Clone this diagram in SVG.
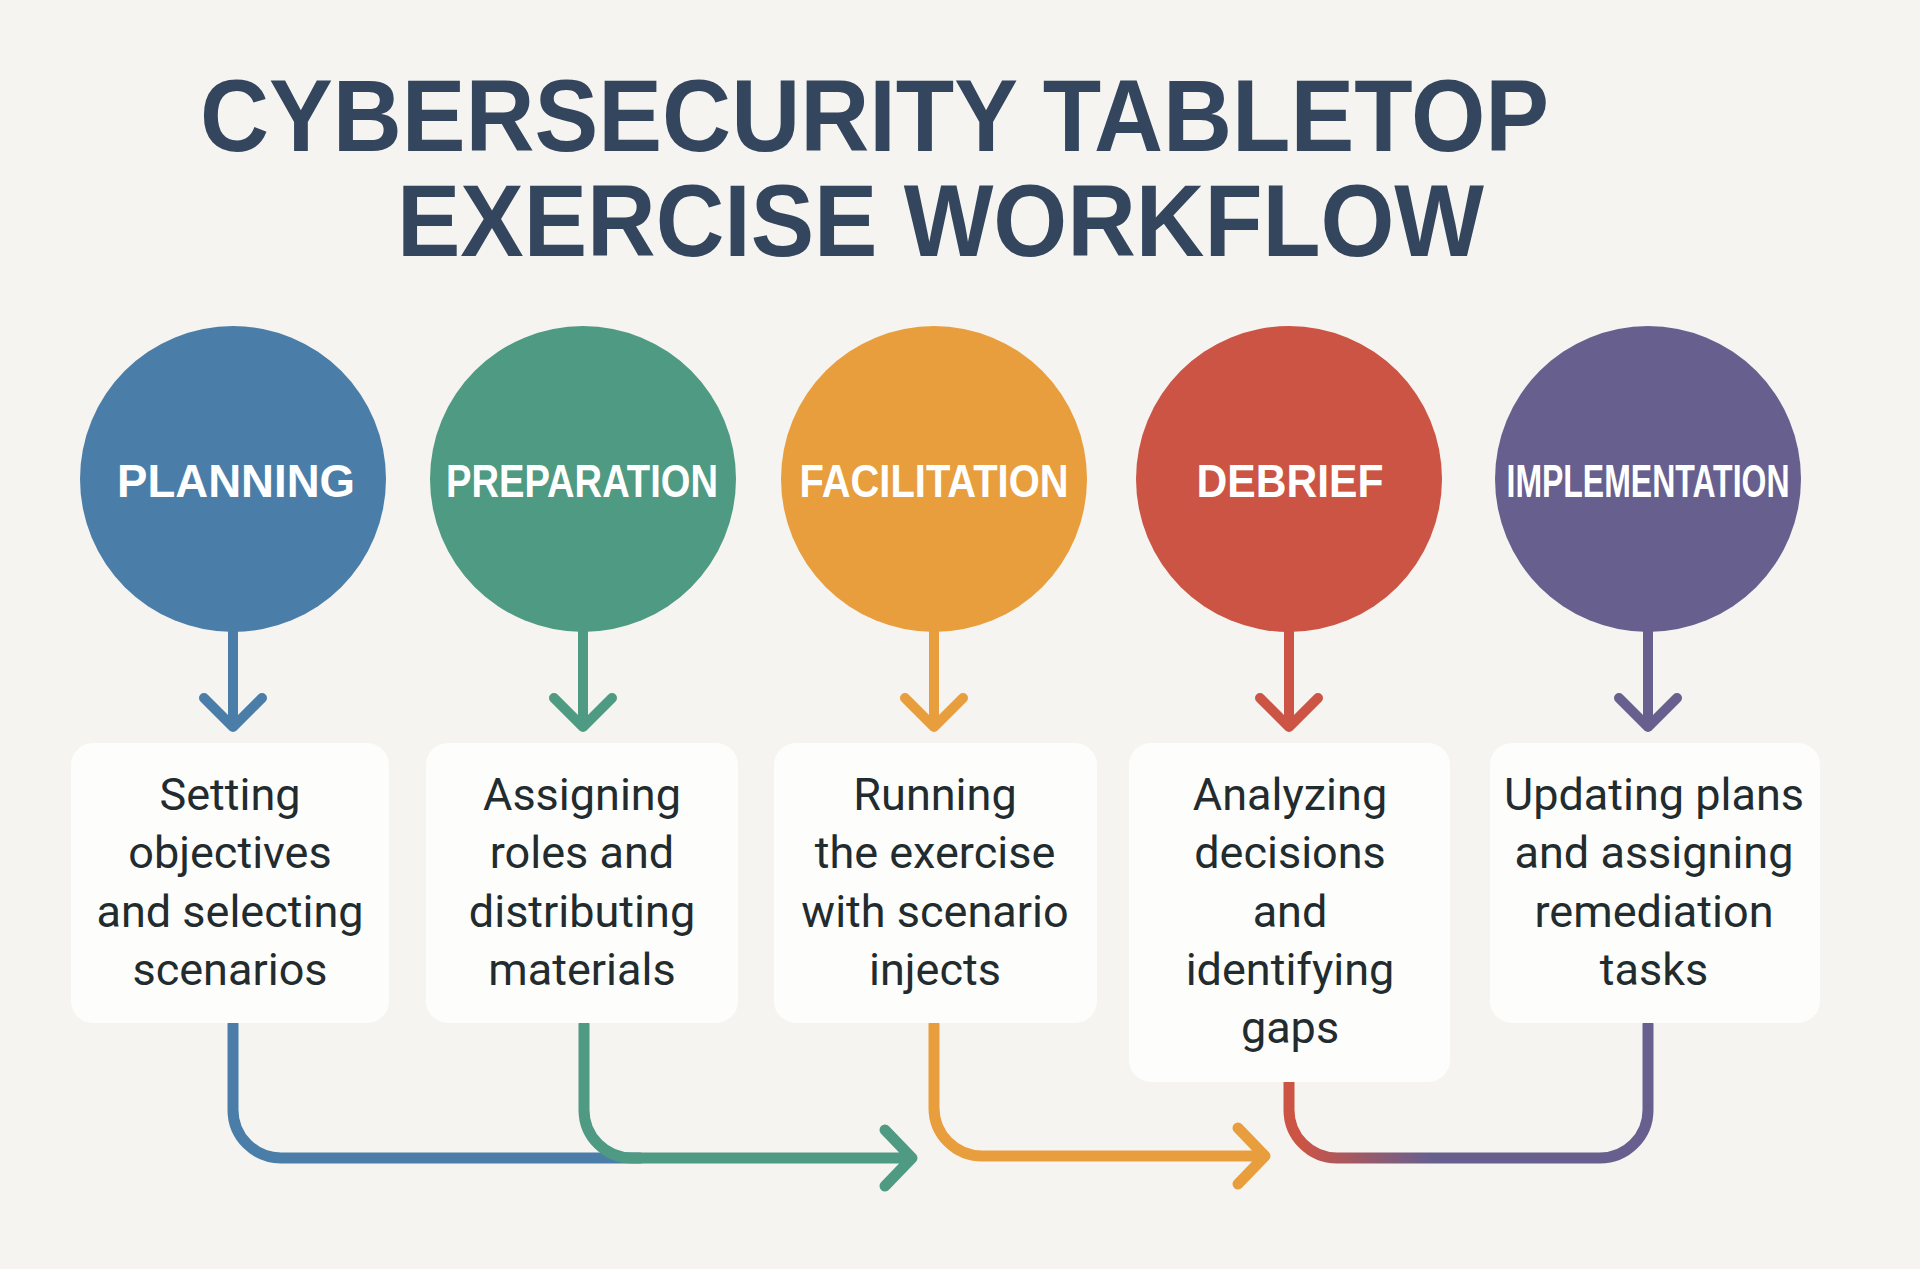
<svg xmlns="http://www.w3.org/2000/svg" width="1920" height="1269" viewBox="0 0 1920 1269">
<style>
.title{font-family:"Liberation Sans",Arial,sans-serif;font-weight:bold;font-size:102px;fill:#33465e}
.lbl{font-family:"Liberation Sans",Arial,sans-serif;font-weight:bold;font-size:46px;fill:#ffffff;text-anchor:middle}
.box{fill:#fdfdfb}
.desc{font-family:Roboto,"Liberation Sans",sans-serif;font-size:45px;fill:#222b2e;text-anchor:middle}
.ln{fill:none;stroke-width:11;stroke-linecap:round;stroke-linejoin:round}
.st{fill:none;stroke-width:10;stroke-linecap:round;stroke-linejoin:round}
</style>
<defs>
<linearGradient id="rp" gradientUnits="userSpaceOnUse" x1="1300" y1="0" x2="1430" y2="0">
<stop offset="0" stop-color="#cc5444"/>
<stop offset="1" stop-color="#67608f"/>
</linearGradient>
</defs>
<rect width="1920" height="1269" fill="#f6f4f0"/>
<g id="title">
<text class="title" x="200" y="151" textLength="1349" lengthAdjust="spacingAndGlyphs">CYBERSECURITY TABLETOP</text>
<text class="title" x="397" y="256" textLength="1087" lengthAdjust="spacingAndGlyphs">EXERCISE WORKFLOW</text>
</g>
<g id="connectors">
<path class="st" stroke="#4a7ea8" d="M233,632 V725 M204,698 L233,727 L262,698"/>
<path class="st" stroke="#4e9a82" d="M583,632 V725 M554,698 L583,727 L612,698"/>
<path class="st" stroke="#e89e3c" d="M934,632 V725 M905,698 L934,727 L963,698"/>
<path class="st" stroke="#cc5444" d="M1289,632 V725 M1260,698 L1289,727 L1318,698"/>
<path class="st" stroke="#67608f" d="M1648,632 V725 M1619,698 L1648,727 L1677,698"/>
<path class="ln" stroke="#4a7ea8" d="M233,1024 V1110 A48,48 0 0 0 281,1158 H640"/>
<path class="ln" stroke="#4e9a82" d="M584,1024 V1110 A48,48 0 0 0 632,1158 H910 M885,1130 L912,1158 L885,1186"/>
<path class="ln" stroke="#e89e3c" d="M934,1024 V1108 A48,48 0 0 0 982,1156 H1263 M1238,1128 L1265,1156 L1238,1184"/>
<path class="ln" stroke="url(#rp)" d="M1289,1082 V1110 A48,48 0 0 0 1337,1158 H1600 A48,48 0 0 0 1648,1110 V1024"/>
</g>
<g id="planning">
<circle cx="233" cy="479" r="153" fill="#4a7ea8"/>
<text class="lbl" x="236" y="497" textLength="238" lengthAdjust="spacingAndGlyphs">PLANNING</text>
<rect class="box" x="71" y="743" width="318" height="280" rx="22"/>
<text class="desc" x="230"><tspan x="230" y="810">Setting</tspan><tspan x="230" y="868">objectives</tspan><tspan x="230" y="927">and selecting</tspan><tspan x="230" y="985">scenarios</tspan></text>
</g>
<g id="preparation">
<circle cx="583" cy="479" r="153" fill="#4e9a82"/>
<text class="lbl" x="582" y="497" textLength="272" lengthAdjust="spacingAndGlyphs">PREPARATION</text>
<rect class="box" x="426" y="743" width="312" height="280" rx="22"/>
<text class="desc" x="582"><tspan x="582" y="810">Assigning</tspan><tspan x="582" y="868">roles and</tspan><tspan x="582" y="927">distributing</tspan><tspan x="582" y="985">materials</tspan></text>
</g>
<g id="facilitation">
<circle cx="934" cy="479" r="153" fill="#e89e3c"/>
<text class="lbl" x="934" y="497" textLength="269" lengthAdjust="spacingAndGlyphs">FACILITATION</text>
<rect class="box" x="774" y="743" width="323" height="280" rx="22"/>
<text class="desc" x="935"><tspan x="935" y="810">Running</tspan><tspan x="935" y="868">the exercise</tspan><tspan x="935" y="927">with scenario</tspan><tspan x="935" y="985">injects</tspan></text>
</g>
<g id="debrief">
<circle cx="1289" cy="479" r="153" fill="#cc5444"/>
<text class="lbl" x="1290" y="497" textLength="187" lengthAdjust="spacingAndGlyphs">DEBRIEF</text>
<rect class="box" x="1129" y="743" width="321" height="339" rx="22"/>
<text class="desc" x="1290"><tspan x="1290" y="810">Analyzing</tspan><tspan x="1290" y="868">decisions</tspan><tspan x="1290" y="927">and</tspan><tspan x="1290" y="985">identifying</tspan><tspan x="1290" y="1043">gaps</tspan></text>
</g>
<g id="implementation">
<circle cx="1648" cy="479" r="153" fill="#67608f"/>
<text class="lbl" x="1648" y="497" textLength="283" lengthAdjust="spacingAndGlyphs">IMPLEMENTATION</text>
<rect class="box" x="1490" y="743" width="330" height="280" rx="22"/>
<text class="desc" x="1654"><tspan x="1654" y="810">Updating plans</tspan><tspan x="1654" y="868">and assigning</tspan><tspan x="1654" y="927">remediation</tspan><tspan x="1654" y="985">tasks</tspan></text>
</g>
</svg>
